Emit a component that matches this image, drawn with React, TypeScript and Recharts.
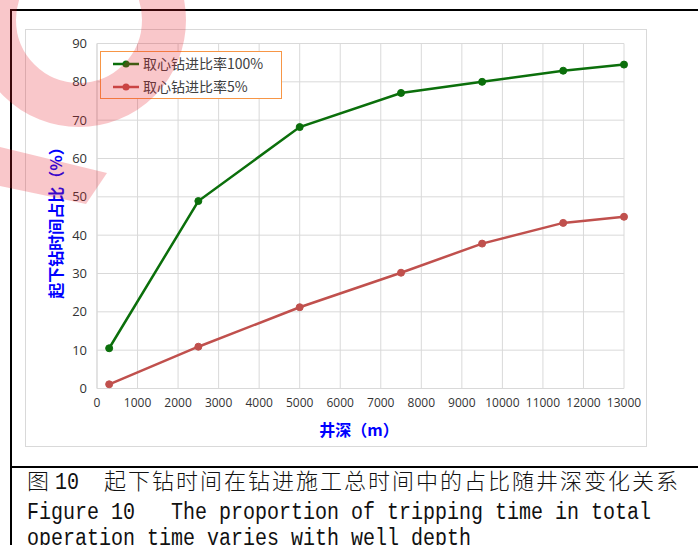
import React from 'react';
import { LineChart, Line, XAxis, YAxis, CartesianGrid } from 'recharts';

const depths = [300, 2500, 5000, 7500, 9500, 11500, 13000];
const core100 = [10.5, 48.9, 68.2, 77.1, 80.0, 82.9, 84.5];
const core5 = [1.1, 10.9, 21.2, 30.2, 37.8, 43.2, 44.8];
const xTicks = [0, 1000, 2000, 3000, 4000, 5000, 6000, 7000, 8000, 9000, 10000, 11000, 12000, 13000];
const yTicks = [0, 10, 20, 30, 40, 50, 60, 70, 80, 90];
const seriesNames = ['取心钻进比率100%', '取心钻进比率5%'];
const xLabel = '井深（m）';
const yLabel = '起下钻时间占比（%）';
const captionCnHead = '图';
const captionCnNum = '10';
const captionCnBody = '起下钻时间在钻进施工总时间中的占比随井深变化关系';
const captionEn1a = 'Figure 10';
const captionEn1b = 'The proportion of tripping time in total';
const captionEn2 = 'operation time varies with well depth';

const data = depths.map((d, i) => ({ depth: d, a: core100[i], b: core5[i] }));

const GREEN = '#0b6f0b';
const RED = '#c0504d';
const MONO = '"Liberation Mono", monospace';
const CJK = '"Noto Sans CJK SC", sans-serif';
const TICKFONT = '"Open Sans", "Liberation Sans", sans-serif';

export default function App() {
  return (
    <div style={{ position: 'absolute', left: 0, top: 0, width: 698, height: 545, background: '#fff', overflow: 'hidden' }}>
      <div style={{ position: 'absolute', left: 25, top: 29, width: 620, height: 416, border: '1px solid #d9d9d9' }} />
      <div style={{ position: 'absolute', left: 0, top: 0 }}>
        <LineChart width={698} height={470} data={data} margin={{ top: 43.5, right: 74, bottom: 51.5, left: 37 }}>
          <CartesianGrid stroke="#d9d9d9" strokeWidth={1} />
          <XAxis
            dataKey="depth"
            type="number"
            domain={[0, 13000]}
            ticks={xTicks}
            interval={0}
            height={30}
            tickSize={0}
            tickMargin={10}
            axisLine={{ stroke: '#d9d9d9' }}
            tickLine={false}
            tick={{ fill: '#333', fontSize: 12, fontFamily: TICKFONT }}
          />
          <YAxis
            type="number"
            domain={[0, 90]}
            ticks={yTicks}
            interval={0}
            width={60}
            tickSize={0}
            tickMargin={10}
            axisLine={{ stroke: '#d9d9d9' }}
            tickLine={false}
            tick={{ fill: '#333', fontSize: 13, fontFamily: TICKFONT }}
          />
          <Line dataKey="a" name={seriesNames[0]} stroke={GREEN} strokeWidth={2.5} isAnimationActive={false}
            dot={{ r: 3.5, fill: GREEN, stroke: GREEN, strokeWidth: 1 }} />
          <Line dataKey="b" name={seriesNames[1]} stroke={RED} strokeWidth={2.5} isAnimationActive={false}
            dot={{ r: 3.5, fill: RED, stroke: RED, strokeWidth: 1 }} />
        </LineChart>
      </div>
      <svg width={698} height={545} style={{ position: 'absolute', left: 0, top: 0, pointerEvents: 'none' }}>
        {/* legend */}
        <rect x={100.5} y={51.5} width={181} height={47} fill="#fff" stroke="#f79646" strokeWidth={1} />
        <line x1={113} y1={64} x2={139} y2={64} stroke={GREEN} strokeWidth={2.5} />
        <circle cx={126} cy={64} r={3.5} fill={GREEN} />
        <text x={143} y={69} fontSize={14} fontFamily={CJK} fill="#404040">{seriesNames[0]}</text>
        <line x1={113} y1={87} x2={139} y2={87} stroke={RED} strokeWidth={2.5} />
        <circle cx={126} cy={87} r={3.5} fill={RED} />
        <text x={143} y={92} fontSize={14} fontFamily={CJK} fill="#404040">{seriesNames[1]}</text>

        {/* axis titles */}
        <text x={359} y={436} textAnchor="middle" fontSize={16} fontWeight="bold" fontFamily={CJK} fill="#0000ff">{xLabel}</text>
        <text transform="translate(62,219) rotate(-90)" textAnchor="middle" fontSize={16} fontWeight="bold" fontFamily={CJK} fill="#0000ff">{yLabel}</text>

        {/* frame */}
        <line x1={10} y1={10} x2={698} y2={10} stroke="#000" strokeWidth={2} />
        <line x1={11} y1={9} x2={11} y2={545} stroke="#000" strokeWidth={2} />
        <line x1={11} y1={467} x2={698} y2={467} stroke="#000" strokeWidth={2} />

        {/* caption */}
        <text x={27} y={489} fontSize={22} fontWeight={300} fontFamily={CJK} fill="#111">{captionCnHead}</text>
        <text x={55} y={489} fontSize={23} fontFamily={MONO} fill="#111" textLength={24} lengthAdjust="spacingAndGlyphs">{captionCnNum}</text>
        <text x={104} y={489} fontSize={22} fontWeight={300} fontFamily={CJK} fill="#111" textLength={574} lengthAdjust="spacing">{captionCnBody}</text>
        <text x={27} y={519} fontSize={23} fontFamily={MONO} fill="#111" textLength={108} lengthAdjust="spacingAndGlyphs">{captionEn1a}</text>
        <text x={171} y={519} fontSize={23} fontFamily={MONO} fill="#111" textLength={480} lengthAdjust="spacingAndGlyphs">{captionEn1b}</text>
        <text x={27} y={545} fontSize={23} fontFamily={MONO} fill="#111" textLength={444} lengthAdjust="spacingAndGlyphs">{captionEn2}</text>

        {/* watermark */}
        <circle cx={79} cy={20} r={85} fill="none" stroke="rgba(232,32,42,0.25)" strokeWidth={44} />
        <polygon points="0,147 107,173 86,204 0,186" fill="rgba(232,32,42,0.25)" />
      </svg>
    </div>
  );
}
